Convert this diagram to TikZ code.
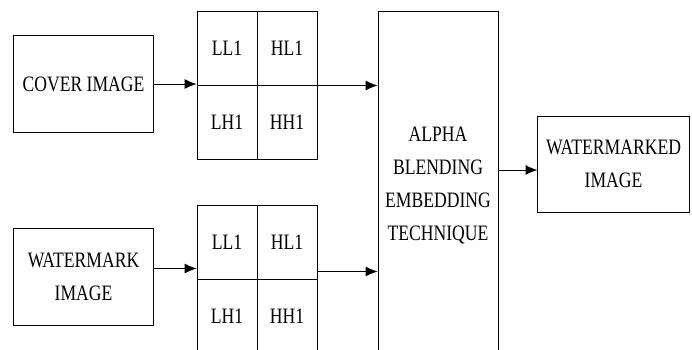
\documentclass[tikz,border=0pt]{standalone}
\usepackage{fontspec}
\setmainfont{Liberation Serif}
\usetikzlibrary{arrows.meta}

\begin{document}
\begin{tikzpicture}[x=1.25pt, y=-1pt, xscale=0.8, transform shape, line width=1pt,
          every node/.style={font=\fontsize{22}{33}\selectfont, align=center},
          blockbox/.style={draw, minimum width=176pt, minimum height=97pt, inner sep=2pt},
          cellbox/.style={draw, minimum width=75pt, minimum height=74pt},
          flow/.style={-{Latex[length=12pt, width=10pt]}}]
        % Diagram: cover and watermark images, each split into four 1-level
        % DWT sub-bands, fed to the alpha blending block, which gives the output.
        % Coordinates: (x, y) in px of the page from the top left corner,
        %   y grows downwards; text squeezed to 0.8 of its width.
        \clip (0,0) rectangle (692,349);
        \node[blockbox] (cover) at (83.5,84) {COVER IMAGE};
        \node[blockbox] (wmark) at (83.5,276.5) {WATERMARK\\IMAGE};
        % sub-band grids, c = cover, w = watermark
        \foreach \g/\y in {c/11, w/205} {
          \node[cellbox] (\g ll) at (227,\y+37)  {LL1};
          \node[cellbox] (\g hl) at (287,\y+37)  {HL1};
          \node[cellbox] (\g lh) at (227,\y+111) {LH1};
          \node[cellbox] (\g hh) at (287,\y+111) {HH1};
        }
        \node[draw, minimum width=150pt, minimum height=350pt] (alpha) at (438,186)
          {ALPHA\\BLENDING\\EMBEDDING\\TECHNIQUE};
        \node[draw, minimum width=189pt, minimum height=96pt] (wmkd) at (613.5,164)
          {WATERMARKED\\IMAGE};
        \draw[flow] (cover) -- (cover -| cll.west);
        \draw[flow] ([yshift=8pt]wmark.east) -- ([yshift=8pt]wmark.east -| wll.west);
        \draw[flow] (chl.south east) -- (chl.south east -| alpha.west);
        \draw[flow] ([yshift=8pt]whl.south east) -- ([yshift=8pt]whl.south east -| alpha.west);
        \draw[flow] (alpha.east |- 0,170) -- (wmkd.west |- 0,170);
      \end{tikzpicture}
\end{document}
